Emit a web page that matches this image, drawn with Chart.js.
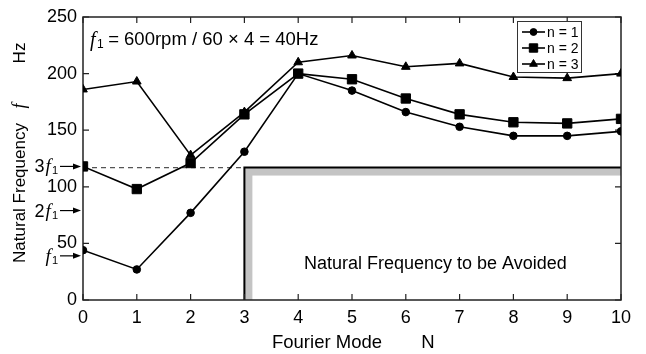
<!DOCTYPE html>
<html><head><meta charset="utf-8">
<script src="https://cdn.jsdelivr.net/npm/chart.js@4/dist/chart.umd.min.js"></script>
<style>html,body{margin:0;padding:0;background:#fff}</style>
</head><body>
<canvas id="c" width="646" height="354"></canvas>
<script>
// ---- data ----
const modes = [0,1,2,3,4,5,6,7,8,9,10];
const n1 = [44,27,77,131,200,185,166,153,145,145,149];
const n2 = [118,98,121,164,200,195,178,164,157,156,160];
const n3 = [186,193,128,166,210,216,206,209,197,196,200];
const seriesLabels = ['n = 1','n = 2','n = 3'];
const seriesStyles = ['circle','rect','triangle'];
const yTickValues = [0,50,100,150,200,250];
const xTickValues = [0,1,2,3,4,5,6,7,8,9,10];
const avoidLimit = 117;        // Hz, top of avoided region
const avoidFromMode = 3;       // N where avoided region begins
const harmonicValues = [39, 79, 118];
const harmonicMultipliers = ['', '2', '3'];
const avoidText = 'Natural Frequency to be Avoided';
const avoidTextAt = {x: 6.55, y: 32};
const noteText = ' = 600rpm / 60 \u00d7 4 = 40Hz';
const xTitle = 'Fourier Mode';
const xTitleUnit = 'N';
const yTitle = 'Natural Frequency';
const yTitleUnit = 'Hz';

const SANS = '"Liberation Sans", Arial, sans-serif';
const SERIF = '"Liberation Serif", "Times New Roman", serif';

function pts(arr){ return modes.map((m,i)=>({x:m,y:arr[i]})); }

const radii = [3.8, 6.6, 5];
const datasets = [n1,n2,n3].map((arr,i)=>({
  label: seriesLabels[i],
  data: pts(arr),
  borderColor:'#000', backgroundColor:'#000',
  borderWidth:1.6, pointStyle: seriesStyles[i],
  pointRadius: radii[i], pointBorderWidth:1, tension:0
}));
// dashed reference line 3f1 from N=0 to the avoided region
datasets.push({
  label:'ref', data:[{x:0,y:avoidLimit},{x:avoidFromMode,y:avoidLimit}],
  borderColor:'#555', borderWidth:1.2, borderDash:[5,4], pointRadius:0
});

function drawArrow(ctx, x1, x2, y){
  ctx.save();
  ctx.strokeStyle='#000'; ctx.fillStyle='#000'; ctx.lineWidth=1.2;
  ctx.beginPath(); ctx.moveTo(x1,y); ctx.lineTo(x2-6,y); ctx.stroke();
  ctx.beginPath(); ctx.moveTo(x2,y); ctx.lineTo(x2-8,y-3); ctx.lineTo(x2-8,y+3); ctx.closePath(); ctx.fill();
  ctx.restore();
}
// draw "k f1" label right-aligned ending at xr, centered at y
function drawHarm(ctx, mult, xr, y, size){
  ctx.save();
  ctx.textBaseline='middle'; ctx.textAlign='left';
  const subSize = Math.round(size*0.62);
  ctx.font = subSize+'px '+SANS; const wSub = ctx.measureText('1').width;
  ctx.font = 'italic '+(size+1)+'px '+SERIF; const wF = ctx.measureText('f').width;
  ctx.font = size+'px '+SANS; const wM = mult ? ctx.measureText(mult).width+1 : 0;
  let x = xr - wSub - wF - wM - 1;
  ctx.fillStyle='#000';
  if(mult){ ctx.font=size+'px '+SANS; ctx.fillText(mult, x, y); x+=wM; }
  ctx.font='italic '+(size+1)+'px '+SERIF; ctx.fillText('f', x, y); x+=wF+1;
  ctx.font=subSize+'px '+SANS; ctx.fillText('1', x, y+4);
  ctx.restore();
}

const decor = {
  id:'decor',
  beforeDatasetsDraw(chart){
    const {ctx, chartArea:a, scales:{x,y}} = chart;
    const x3 = x.getPixelForValue(avoidFromMode), xr = x.getPixelForValue(10);
    const yt = y.getPixelForValue(avoidLimit), y0 = y.getPixelForValue(0);
    ctx.save();
    ctx.fillStyle='#c4c4c4';
    ctx.fillRect(x3, yt, xr-x3, y0-yt);
    ctx.fillStyle='#fff';
    ctx.fillRect(x3+8, yt+8, xr-x3-8, y0-yt-8);
    ctx.strokeStyle='#000'; ctx.lineWidth=2;
    ctx.beginPath(); ctx.moveTo(x3, y0); ctx.lineTo(x3, yt); ctx.lineTo(xr, yt); ctx.stroke();
    // avoided text
    ctx.fillStyle='#000'; ctx.font='18px '+SANS; ctx.textAlign='center'; ctx.textBaseline='middle';
    ctx.fillText(avoidText, x.getPixelForValue(avoidTextAt.x), y.getPixelForValue(avoidTextAt.y));
    // frame
    ctx.strokeStyle='#222'; ctx.lineWidth=1.5;
    ctx.strokeRect(a.left, a.top, a.right-a.left, a.bottom-a.top);
    // inward ticks
    ctx.lineWidth=1.2;
    ctx.beginPath();
    xTickValues.forEach(v=>{ const px=x.getPixelForValue(v);
      ctx.moveTo(px,a.bottom); ctx.lineTo(px,a.bottom-6);
      ctx.moveTo(px,a.top); ctx.lineTo(px,a.top+6); });
    yTickValues.forEach(v=>{ const py=y.getPixelForValue(v);
      ctx.moveTo(a.left,py); ctx.lineTo(a.left+6,py);
      ctx.moveTo(a.right,py); ctx.lineTo(a.right-6,py); });
    ctx.stroke();
    ctx.restore();
  },
  afterDraw(chart){
    const {ctx, chartArea:a, scales:{x,y}} = chart;
    ctx.save();
    ctx.fillStyle='#000';
    // x title
    ctx.font='18.5px '+SANS; ctx.textBaseline='middle'; ctx.textAlign='center';
    ctx.fillText(xTitle, 327, 343);
    ctx.fillText(xTitleUnit, 428, 343);
    // y title rotated
    ctx.save();
    ctx.translate(20, 0); ctx.rotate(-Math.PI/2);
    ctx.font='17px '+SANS; ctx.textAlign='center'; ctx.textBaseline='middle';
    ctx.fillText(yTitle, -193, 0);
    ctx.fillText(yTitleUnit, -53, 0);
    ctx.font='italic 18px '+SERIF;
    ctx.fillText('f', -106, 0);
    ctx.restore();
    // note f1 = ...
    ctx.textAlign='left'; ctx.textBaseline='middle';
    ctx.font='italic 20px '+SERIF; ctx.fillText('f', 90, 41);
    ctx.font='12px '+SANS; ctx.fillText('1', 97, 45);
    ctx.font='18.5px '+SANS; ctx.fillText(noteText, 103, 40);
    // harmonic arrows
    harmonicValues.forEach((v,i)=>{
      const py = y.getPixelForValue(v);
      drawHarm(ctx, harmonicMultipliers[i], 58, py+1, 18);
      drawArrow(ctx, 60, 81, py);
    });
    // legend
    const lx=517, ly=21, lw=64, lh=51;
    ctx.fillStyle='#fff'; ctx.fillRect(lx,ly,lw,lh);
    ctx.strokeStyle='#333'; ctx.lineWidth=1; ctx.strokeRect(lx+0.5,ly+0.5,lw,lh);
    chart.data.datasets.slice(0,3).forEach((ds,i)=>{
      const cy = ly+11+i*16;
      ctx.strokeStyle='#000'; ctx.fillStyle='#000'; ctx.lineWidth=1.6;
      ctx.beginPath(); ctx.moveTo(lx+5,cy); ctx.lineTo(lx+28,cy); ctx.stroke();
      ctx.lineWidth=1;
      Chart.helpers.drawPoint(ctx, {pointStyle:ds.pointStyle, radius:ds.pointRadius*0.9, borderWidth:1}, lx+16.5, cy);
      ctx.fillStyle='#000'; ctx.font='14px '+SANS; ctx.textAlign='left'; ctx.textBaseline='middle';
      ctx.fillText(ds.label, lx+30, cy+1);
    });
    ctx.restore();
  }
};

new Chart(document.getElementById('c'), {
  type:'line',
  data:{datasets},
  plugins:[decor],
  options:{
    responsive:false, animation:false,
    layout:{padding:{top:17,right:25,left:0,bottom:0}},
    plugins:{legend:{display:false}, tooltip:{enabled:false}},
    scales:{
      x:{type:'linear', min:0, max:10,
        grid:{display:false, drawTicks:false}, border:{display:false},
        afterBuildTicks(s){ s.ticks = xTickValues.map(v=>({value:v})); },
        afterFit(s){ s.height = 54; },
        ticks:{color:'#000', font:{family:SANS, size:18}, padding:7, maxRotation:0}},
      y:{type:'linear', min:0, max:250,
        grid:{display:false, drawTicks:false}, border:{display:false},
        afterBuildTicks(s){ s.ticks = yTickValues.map(v=>({value:v})); },
        afterFit(s){ s.width = 83; },
        ticks:{color:'#000', font:{family:SANS, size:18}, padding:6}}
    }
  }
});
</script>
</body></html>
